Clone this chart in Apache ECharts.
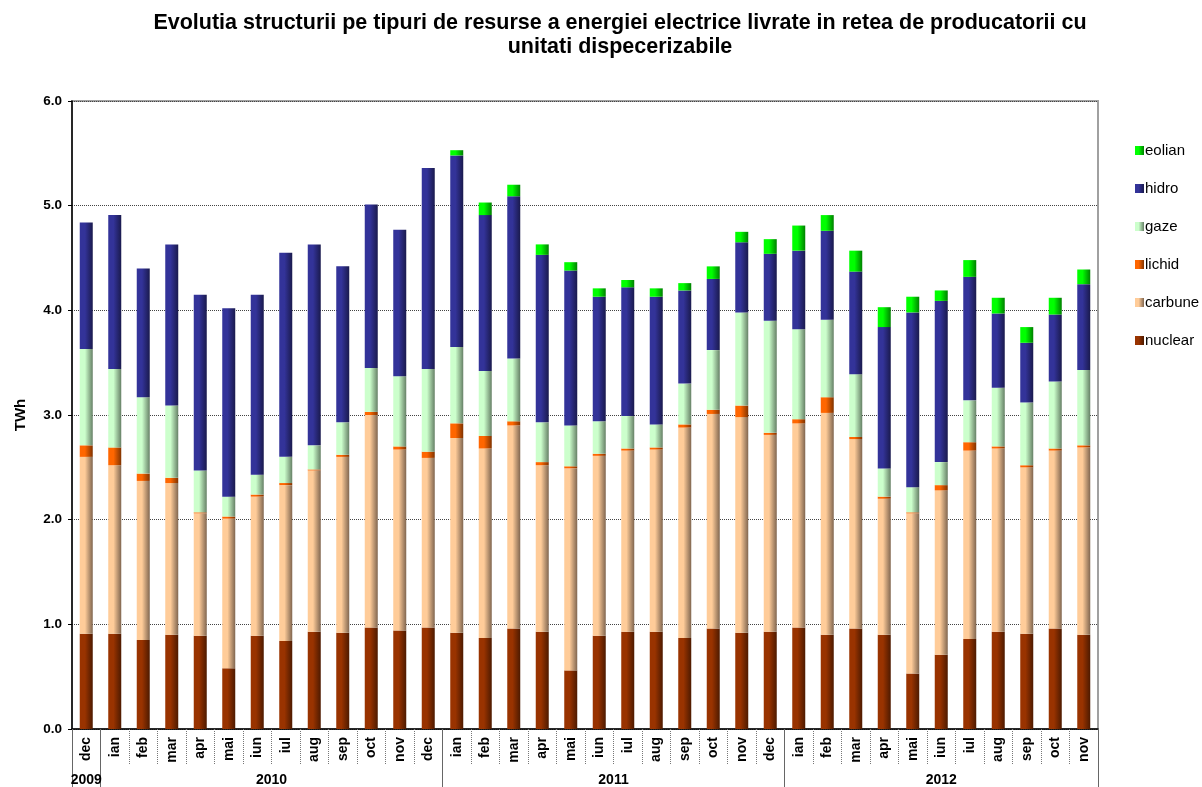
<!doctype html>
<html>
<head>
<meta charset="utf-8">
<title>Evolutia structurii</title>
<script src="https://cdn.jsdelivr.net/npm/echarts@6/dist/echarts.min.js"></script>
<style>html,body,#app{margin:0;width:1202px;height:787px;background:#fff}</style>
</head>
<body>
<div id="app"></div>
<script>
// categories: dec 2009 .. nov 2012
const months = ["dec", "ian", "feb", "mar", "apr", "mai", "iun", "iul", "aug", "sep", "oct", "nov",
  "dec", "ian", "feb", "mar", "apr", "mai", "iun", "iul", "aug", "sep", "oct", "nov",
  "dec", "ian", "feb", "mar", "apr", "mai", "iun", "iul", "aug", "sep", "oct", "nov"];
const years = ["2009", "2010", "2011", "2012"];
const yearCenters = [0.5, 7, 19, 30.5]; // label positions on the year axis (in months)
const yearBounds = [0, 1, 13, 25, 36]; // separators between years

// values in TWh
const nuclear = [0.91, 0.91, 0.85, 0.90, 0.89, 0.58, 0.89, 0.84, 0.93, 0.92, 0.97, 0.94,
  0.97, 0.92, 0.87, 0.96, 0.93, 0.56, 0.89, 0.93, 0.93, 0.87, 0.96, 0.92,
  0.93, 0.97, 0.90, 0.96, 0.90, 0.53, 0.71, 0.86, 0.93, 0.91, 0.96, 0.90];
const carbune = [1.69, 1.61, 1.52, 1.45, 1.17, 1.43, 1.33, 1.49, 1.54, 1.68, 2.03, 1.73,
  1.62, 1.86, 1.81, 1.94, 1.59, 1.93, 1.72, 1.73, 1.74, 2.01, 2.05, 2.06,
  1.88, 1.95, 2.12, 1.81, 1.30, 1.53, 1.57, 1.80, 1.75, 1.59, 1.70, 1.79];
const lichid = [0.11, 0.17, 0.07, 0.05, 0.01, 0.02, 0.02, 0.02, 0.01, 0.02, 0.03, 0.03,
  0.06, 0.14, 0.12, 0.04, 0.03, 0.02, 0.02, 0.02, 0.02, 0.03, 0.04, 0.11,
  0.02, 0.04, 0.15, 0.02, 0.02, 0.01, 0.05, 0.08, 0.02, 0.02, 0.02, 0.02];
const gaze = [0.92, 0.75, 0.73, 0.69, 0.40, 0.19, 0.19, 0.25, 0.23, 0.31, 0.42, 0.67,
  0.79, 0.73, 0.62, 0.60, 0.38, 0.39, 0.31, 0.31, 0.22, 0.39, 0.57, 0.89,
  1.07, 0.86, 0.74, 0.60, 0.27, 0.24, 0.22, 0.40, 0.56, 0.60, 0.64, 0.72];
const hidro = [1.21, 1.47, 1.23, 1.54, 1.68, 1.80, 1.72, 1.95, 1.92, 1.49, 1.56, 1.40,
  1.92, 1.83, 1.49, 1.55, 1.60, 1.48, 1.19, 1.23, 1.22, 0.89, 0.68, 0.67,
  0.64, 0.75, 0.85, 0.98, 1.35, 1.67, 1.54, 1.18, 0.71, 0.57, 0.64, 0.82];
const eolian = [0, 0, 0, 0, 0, 0, 0, 0, 0, 0, 0, 0,
  0, 0.05, 0.12, 0.11, 0.10, 0.08, 0.08, 0.07, 0.08, 0.07, 0.12, 0.10,
  0.14, 0.24, 0.15, 0.20, 0.19, 0.15, 0.10, 0.16, 0.15, 0.15, 0.16, 0.14];
const yTicks = [0, 1, 2, 3, 4, 5, 6];

// Excel-like horizontal gradient: light on the left, darker on the right
function grad(c1, c2) {
  return {
    type: "linear", x: 0, y: 0, x2: 1, y2: 0,
    colorStops: [{ offset: 0, color: c1 }, { offset: 0.4, color: c1 }, { offset: 1, color: c2 }],
  };
}

const seriesDefs = [
  { name: "nuclear", data: nuclear, color: grad("#993300", "#4d1a00") },
  { name: "carbune", data: carbune, color: grad("#ffcc99", "#806650") },
  { name: "lichid", data: lichid, color: grad("#ff6600", "#803300") },
  { name: "gaze", data: gaze, color: grad("#ccffcc", "#668066") },
  { name: "hidro", data: hidro, color: grad("#333399", "#1a1a4d") },
  { name: "eolian", data: eolian, color: grad("#00ff00", "#008000") },
];

const el = document.getElementById("app");
const chart = echarts.init(el, null, { renderer: "canvas" });

const option = {
  animation: false,
  backgroundColor: "#fff",
  textStyle: { fontFamily: "Liberation Sans, Arial, sans-serif" },
  title: {
    text: "Evolutia structurii pe tipuri de resurse a energiei electrice livrate in retea de producatorii cu\nunitati dispecerizabile",
    left: 615, top: 6, textAlign: "center",
    textStyle: { fontSize: 21.5, fontWeight: "bold", color: "#000", lineHeight: 24 },
  },
  legend: {
    orient: "vertical", left: 1135, top: 143, itemGap: 23, padding: 0,
    itemWidth: 9, itemHeight: 9, icon: "rect",
    data: ["eolian", "hidro", "gaze", "lichid", "carbune", "nuclear"],
    textStyle: { fontSize: 15, color: "#000", padding: [0, 0, 0, -4] },
  },
  grid: {
    left: 72, right: 104, top: 101, bottom: 58,
    show: true, borderColor: "#a0a0a0", borderWidth: 2,
  },
  xAxis: [
    {
      type: "category", data: months,
      axisLine: { lineStyle: { color: "#000", width: 1.5 } },
      axisTick: { show: true, interval: 0, length: 36, lineStyle: { color: "#777", type: "dotted" } },
      axisLabel: { interval: 0, rotate: 90, margin: 8, fontSize: 14, fontWeight: "bold", color: "#000" },
    },
    {
      type: "value", min: 0, max: 36, position: "bottom",
      axisLine: { show: false },
      splitLine: { show: false },
      axisTick: { show: true, length: 58, customValues: yearBounds, lineStyle: { color: "#666", width: 1 } },
      axisLabel: {
        margin: 44, fontSize: 14, fontWeight: "bold", color: "#000",
        customValues: yearCenters,
        formatter: (v) => years[yearCenters.indexOf(v)] || "",
      },
    },
  ],
  yAxis: {
    type: "value", min: 0, max: 6, interval: 1,
    name: "TWh", nameLocation: "middle", nameGap: 44,
    nameTextStyle: { fontSize: 15, fontWeight: "bold", color: "#000" },
    axisLine: { show: true, lineStyle: { color: "#000", width: 1.5 } },
    axisTick: { show: true, length: 4, lineStyle: { color: "#000" } },
    axisLabel: {
      fontSize: 13.5, fontWeight: "bold", color: "#000", margin: 10,
      formatter: (v) => (yTicks.indexOf(v) >= 0 ? v.toFixed(1) : ""),
    },
    splitLine: { lineStyle: { color: "#444", type: "dotted", width: 1 } },
  },
  series: seriesDefs.map((s) => ({
    name: s.name, type: "bar", stack: "total", barWidth: 13,
    data: s.data, itemStyle: { color: s.color },
  })),
};

chart.setOption(option);
</script>
</body>
</html>
